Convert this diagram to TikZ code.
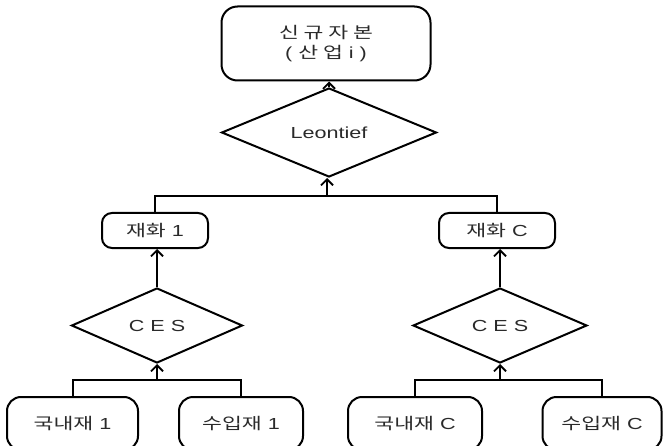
\documentclass[tikz,border=0pt]{standalone}
\usepackage{fontspec}
\setmainfont[FakeStretch=1.35]{Liberation Sans}
\newfontfamily\kr[FakeStretch=1.35]{Noto Sans CJK KR}
\usetikzlibrary{shapes.geometric,arrows.meta}
\definecolor{txt}{HTML}{2A2A2A}
\tikzset{
  rbox/.style={draw=black, line width=2pt, rounded corners=12pt, inner sep=0pt,
    text=txt, font=\fontsize{16}{20}\selectfont, align=center},
  dia/.style={draw=black, line width=2pt, diamond, inner sep=0pt, aspect=2,
    text=txt, font=\fontsize{16}{18}\selectfont},
  conn/.style={draw=black, line width=2pt},
  arr/.style={conn, -{Straight Barb[length=6pt,width=12pt,line width=1.8pt]}}
}
\begin{document}
\begin{tikzpicture}[x=1pt,y=-1pt]
\useasboundingbox (0,0) rectangle (663,446);
\clip (0,0) rectangle (663,446);
% top
\node[rbox, minimum width=209pt, minimum height=74pt, rounded corners=16pt] (top) at (326,43.5)
  {{\kr 신 규 자 본}\\( {\kr 산 업} i )};
\node[dia, minimum width=215pt, minimum height=89pt] (leon) at (329,132.5) {Leontief};
% middle
\node[rbox, minimum width=106pt, minimum height=35pt, rounded corners=10pt] (g1) at (155,230.5) {{\kr 재화} 1};
\node[rbox, minimum width=116pt, minimum height=35pt, rounded corners=10pt] (gC) at (497,230.5) {{\kr 재화} C};
\node[dia, minimum width=171pt, minimum height=75pt] (ces1) at (157,325.5) {C E S};
\node[dia, minimum width=174pt, minimum height=75pt] (cesC) at (500,325.5) {C E S};
% leaves
\node[rbox, minimum width=131pt, minimum height=53pt, rounded corners=14pt] (d1) at (72.5,423.5) {{\kr 국내재} 1};
\node[rbox, minimum width=124pt, minimum height=53pt, rounded corners=14pt] (i1) at (241,423.5) {{\kr 수입재} 1};
\node[rbox, minimum width=134pt, minimum height=53pt, rounded corners=14pt] (dC) at (415,423.5) {{\kr 국내재} C};
\node[rbox, minimum width=119pt, minimum height=53pt, rounded corners=14pt] (iC) at (602,423.5) {{\kr 수입재} C};
% junctions
\coordinate (j0) at (327,196);
\coordinate (j1) at (157,380);
\coordinate (jC) at (500,380);
% connectors
\draw[arr] (leon.north) -- (leon.north |- top.south);
\draw[conn] (g1.north) |- (j0) -| (gC.north);
\draw[arr] (j0) -- (j0 |- leon.south);
\draw[arr] (ces1.north) -- (ces1.north |- g1.south);
\draw[arr] (cesC.north) -- (cesC.north |- gC.south);
\draw[conn] (d1.north) |- (j1) -| (i1.north);
\draw[arr] (j1) -- (ces1.south);
\draw[conn] (dC.north) |- (jC) -| (iC.north);
\draw[arr] (jC) -- (cesC.south);
\end{tikzpicture}
\end{document}
